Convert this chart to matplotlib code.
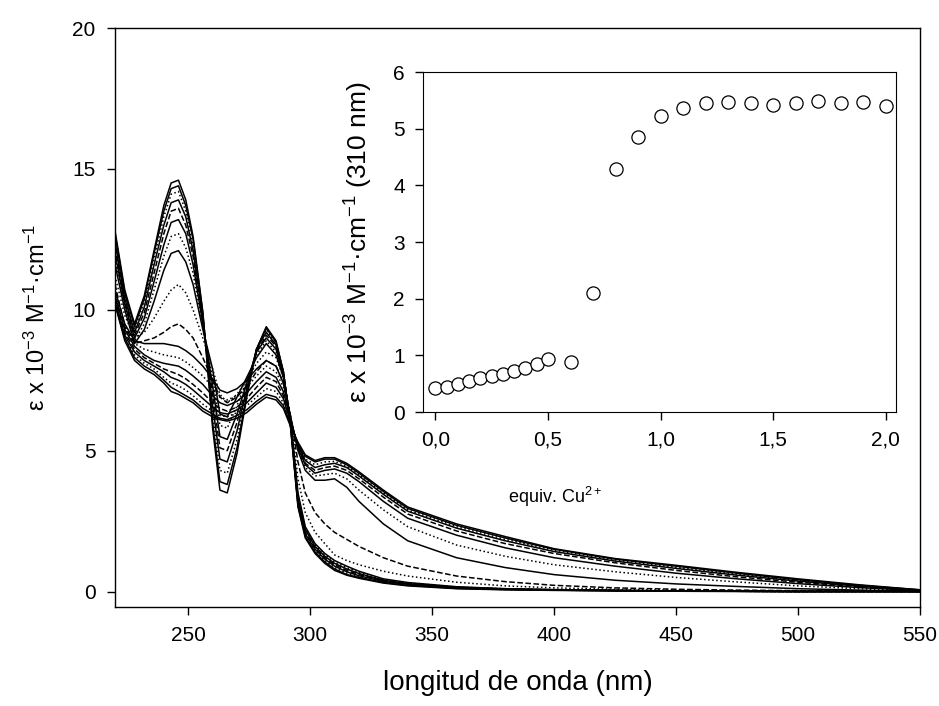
import matplotlib
matplotlib.use('Agg')
import matplotlib.pyplot as plt
from matplotlib.ticker import FuncFormatter

plt.rcParams['font.family'] = ['Liberation Sans', 'DejaVu Sans']
plt.rcParams['mathtext.default'] = 'regular'

# longitudes de onda (nm) en las que se leyeron los espectros
wl = [220, 224, 228, 232, 236, 240, 243, 246, 249, 252, 256, 260, 263, 266, 270, 274, 278, 282, 286, 289,
      292, 295, 298, 302, 306, 310, 315, 320, 330, 340, 360, 380, 400, 425, 450, 475, 500, 525, 550]

# espectros con poco Cu2+ (0 - 0.5 equiv.)
eq_000 = [12.8, 10.7, 9.5, 10.5, 12.1, 13.7, 14.5, 14.6, 13.9, 12.6, 9.9, 5.8, 3.6, 3.5, 4.9, 6.9, 8.6, 9.4, 8.9, 7.8,
          5.8, 3.0, 1.9, 1.35, 1.0, 0.75, 0.58, 0.47, 0.3, 0.2, 0.1, 0.06, 0.04, 0.02, 0.01, 0.0, 0.0, 0.0, 0.0]
eq_005 = [12.7, 10.6, 9.4, 10.4, 12.0, 13.5, 14.3, 14.4, 13.7, 12.5, 9.9, 6.0, 3.9, 3.8, 5.1, 7.0, 8.6, 9.35, 8.85, 7.8,
          5.8, 3.05, 1.95, 1.4, 1.05, 0.8, 0.6, 0.5, 0.32, 0.22, 0.11, 0.07, 0.05, 0.03, 0.02, 0.01, 0.0, 0.0, 0.0]
eq_010 = [12.6, 10.5, 9.3, 10.3, 11.8, 13.3, 14.1, 14.2, 13.5, 12.3, 9.8, 6.3, 4.3, 4.2, 5.4, 7.1, 8.6, 9.3, 8.8, 7.8,
          5.9, 3.1, 2.0, 1.45, 1.1, 0.85, 0.65, 0.52, 0.34, 0.24, 0.12, 0.08, 0.05, 0.03, 0.02, 0.01, 0.0, 0.0, 0.0]
eq_020 = [12.4, 10.4, 9.2, 10.1, 11.6, 13.0, 13.8, 13.9, 13.3, 12.1, 9.7, 6.6, 4.7, 4.6, 5.7, 7.2, 8.6, 9.2, 8.75, 7.8,
          5.9, 3.15, 2.05, 1.5, 1.15, 0.9, 0.7, 0.56, 0.36, 0.26, 0.13, 0.08, 0.05, 0.03, 0.02, 0.01, 0.0, 0.0, 0.0]
eq_030 = [12.2, 10.3, 9.1, 9.9, 11.3, 12.7, 13.5, 13.6, 13.0, 11.9, 9.6, 7.0, 5.1, 5.0, 6.0, 7.3, 8.5, 9.1, 8.7, 7.7,
          6.0, 3.2, 2.1, 1.55, 1.2, 0.95, 0.75, 0.6, 0.38, 0.27, 0.14, 0.09, 0.06, 0.04, 0.02, 0.01, 0.0, 0.0, 0.0]
eq_040 = [12.0, 10.2, 9.0, 9.7, 11.0, 12.3, 13.1, 13.2, 12.7, 11.6, 9.5, 7.3, 5.5, 5.4, 6.3, 7.4, 8.5, 9.0, 8.6, 7.7,
          6.0, 3.3, 2.2, 1.6, 1.25, 1.0, 0.8, 0.64, 0.4, 0.28, 0.15, 0.09, 0.06, 0.04, 0.02, 0.01, 0.0, 0.0, 0.0]
eq_045 = [11.8, 10.1, 8.9, 9.5, 10.7, 11.9, 12.6, 12.7, 12.2, 11.3, 9.4, 7.6, 5.9, 5.8, 6.6, 7.5, 8.4, 8.9, 8.5, 7.6,
          6.1, 3.4, 2.25, 1.65, 1.3, 1.05, 0.85, 0.68, 0.42, 0.3, 0.16, 0.1, 0.06, 0.04, 0.02, 0.01, 0.0, 0.0, 0.0]
eq_050 = [11.6, 10.0, 8.8, 9.3, 10.3, 11.4, 12.0, 12.1, 11.7, 10.9, 9.3, 7.9, 6.3, 6.2, 6.9, 7.6, 8.3, 8.8, 8.4, 7.6,
          6.1, 3.5, 2.3, 1.7, 1.35, 1.1, 0.9, 0.72, 0.45, 0.32, 0.17, 0.1, 0.07, 0.04, 0.02, 0.01, 0.0, 0.0, 0.0]

# espectros intermedios (0.6 y 0.7 equiv.)
eq_060 = [11.2, 9.8, 9.0, 9.2, 9.7, 10.3, 10.7, 10.9, 10.6, 10.0, 9.0, 7.9, 7.0, 6.7, 7.0, 7.5, 8.1, 8.5, 8.3, 7.6,
          6.2, 4.0, 2.8, 2.1, 1.7, 1.3, 1.1, 0.95, 0.72, 0.55, 0.33, 0.2, 0.13, 0.08, 0.05, 0.03, 0.02, 0.01, 0.0]
eq_070 = [10.9, 9.4, 8.8, 8.9, 9.0, 9.2, 9.4, 9.5, 9.3, 9.0, 8.3, 7.5, 6.9, 6.7, 6.9, 7.3, 7.8, 8.2, 8.0, 7.4,
          6.2, 4.6, 3.5, 2.8, 2.4, 2.1, 1.85, 1.6, 1.2, 0.9, 0.55, 0.35, 0.22, 0.13, 0.08, 0.05, 0.03, 0.01, 0.0]

# espectros con exceso de Cu2+ (0.8 - 2.0 equiv.)
eq_080 = [10.7, 9.5, 8.9, 8.8, 8.8, 8.8, 8.75, 8.7, 8.55, 8.35, 8.0, 7.55, 7.15, 7.05, 7.2, 7.5, 7.9, 8.2, 8.0, 7.4,
          6.2, 5.0, 4.3, 3.95, 3.95, 4.0, 3.7, 3.2, 2.4, 1.8, 1.2, 0.85, 0.6, 0.4, 0.27, 0.18, 0.1, 0.05, 0.0]
eq_090 = [10.6, 9.4, 8.8, 8.6, 8.5, 8.4, 8.35, 8.3, 8.15, 7.95, 7.65, 7.25, 6.9, 6.8, 6.95, 7.25, 7.65, 8.0, 7.8, 7.25,
          6.15, 5.05, 4.4, 4.1, 4.15, 4.2, 4.0, 3.6, 2.9, 2.3, 1.65, 1.25, 0.95, 0.7, 0.5, 0.34, 0.2, 0.1, 0.02]
eq_100 = [10.5, 9.3, 8.7, 8.4, 8.2, 8.1, 8.05, 8.0, 7.85, 7.65, 7.35, 6.95, 6.7, 6.6, 6.75, 7.05, 7.45, 7.8, 7.6, 7.1,
          6.1, 5.1, 4.5, 4.2, 4.3, 4.35, 4.2, 3.9, 3.2, 2.6, 2.0, 1.55, 1.2, 0.9, 0.65, 0.45, 0.28, 0.14, 0.03]
eq_120 = [10.4, 9.2, 8.6, 8.3, 8.1, 7.9, 7.8, 7.7, 7.55, 7.35, 7.05, 6.7, 6.5, 6.4, 6.55, 6.85, 7.25, 7.6, 7.45, 6.95,
          6.05, 5.15, 4.55, 4.3, 4.4, 4.45, 4.3, 4.0, 3.35, 2.75, 2.15, 1.7, 1.35, 1.02, 0.75, 0.52, 0.33, 0.17, 0.04]
eq_140 = [10.3, 9.1, 8.5, 8.2, 8.0, 7.8, 7.6, 7.5, 7.35, 7.15, 6.85, 6.55, 6.35, 6.3, 6.45, 6.7, 7.05, 7.4, 7.25, 6.85,
          6.0, 5.2, 4.65, 4.4, 4.5, 4.55, 4.4, 4.1, 3.45, 2.85, 2.25, 1.8, 1.42, 1.08, 0.82, 0.58, 0.37, 0.19, 0.05]
eq_160 = [10.3, 9.0, 8.4, 8.1, 7.9, 7.6, 7.4, 7.3, 7.15, 6.95, 6.65, 6.4, 6.25, 6.2, 6.35, 6.6, 6.9, 7.2, 7.1, 6.7,
          5.95, 5.2, 4.7, 4.5, 4.6, 4.62, 4.45, 4.15, 3.5, 2.9, 2.3, 1.85, 1.47, 1.12, 0.86, 0.62, 0.4, 0.21, 0.05]
eq_180 = [10.2, 9.0, 8.3, 8.0, 7.8, 7.5, 7.25, 7.1, 6.95, 6.8, 6.5, 6.3, 6.15, 6.1, 6.25, 6.45, 6.75, 7.0, 6.9, 6.6,
          5.9, 5.25, 4.8, 4.6, 4.7, 4.7, 4.5, 4.2, 3.55, 2.95, 2.35, 1.9, 1.5, 1.15, 0.9, 0.65, 0.42, 0.22, 0.06]
eq_200 = [10.2, 8.9, 8.2, 7.9, 7.7, 7.4, 7.1, 7.0, 6.85, 6.7, 6.4, 6.2, 6.1, 6.05, 6.15, 6.35, 6.65, 6.9, 6.8, 6.5,
          5.85, 5.3, 4.85, 4.65, 4.75, 4.75, 4.55, 4.25, 3.6, 3.0, 2.4, 1.95, 1.52, 1.17, 0.93, 0.68, 0.45, 0.24, 0.06]

espectros = [eq_000, eq_005, eq_010, eq_020, eq_030, eq_040, eq_045, eq_050, eq_060, eq_070,
             eq_080, eq_090, eq_100, eq_120, eq_140, eq_160, eq_180, eq_200]
estilos = ['-', '-', ':', '-', '--', '-', ':', '-', ':', '--',
           '-', ':', '-', '--', '-', ':', '-', '-']

# datos del recuadro: epsilon a 310 nm frente a equiv. de Cu2+
equiv = [0.0, 0.05, 0.1, 0.15, 0.2, 0.25, 0.3, 0.35, 0.4, 0.45, 0.5, 0.6, 0.7, 0.8, 0.9,
         1.0, 1.1, 1.2, 1.3, 1.4, 1.5, 1.6, 1.7, 1.8, 1.9, 2.0]
eps310 = [0.42, 0.45, 0.5, 0.55, 0.6, 0.63, 0.67, 0.72, 0.78, 0.85, 0.93, 0.88, 2.1, 4.28, 4.85,
          5.22, 5.37, 5.45, 5.47, 5.45, 5.42, 5.45, 5.48, 5.46, 5.47, 5.4]

fig = plt.figure(figsize=(9.39, 7.06), dpi=100)
ax = fig.add_axes([0.1225, 0.1402, 0.8573, 0.8201])

for y, ls in zip(espectros, estilos):
    ax.plot(wl, y, color='black', lw=1.1, linestyle=ls)

ax.set_xlim(220, 550)
ax.set_ylim(-0.55, 20)
ax.set_xticks([250, 300, 350, 400, 450, 500, 550])
ax.set_yticks([0, 5, 10, 15, 20])
ax.tick_params(direction='out', length=6, width=1, labelsize=15, pad=8)
for s in ax.spines.values():
    s.set_linewidth(1)
ax.set_xlabel('longitud de onda (nm)', fontsize=20, labelpad=18)
ax.set_ylabel(r'ε x 10$^{-3}$ M$^{-1}$·cm$^{-1}$', fontsize=17, labelpad=16)

# recuadro
ins = fig.add_axes([0.4505, 0.4164, 0.5037, 0.4816])
ins.plot(equiv, eps310, 'o', markersize=9.5, markerfacecolor='white',
         markeredgecolor='black', markeredgewidth=0.9)
ins.set_xlim(-0.055, 2.045)
ins.set_ylim(0, 6)
ins.set_xticks([0.0, 0.5, 1.0, 1.5, 2.0])
ins.set_yticks([0, 1, 2, 3, 4, 5, 6])
ins.xaxis.set_major_formatter(FuncFormatter(lambda v, p: ('%.1f' % v).replace('.', ',')))
ins.tick_params(direction='out', length=6, width=1, labelsize=15, pad=7)
ins.set_ylabel(r'ε x 10$^{-3}$ M$^{-1}$·cm$^{-1}$ (310 nm)', fontsize=19, labelpad=13)
fig.text(0.541, 0.296, r'equiv. Cu$^{2+}$', fontsize=13, ha='left', va='center')

plt.savefig('out.png', dpi=100)
